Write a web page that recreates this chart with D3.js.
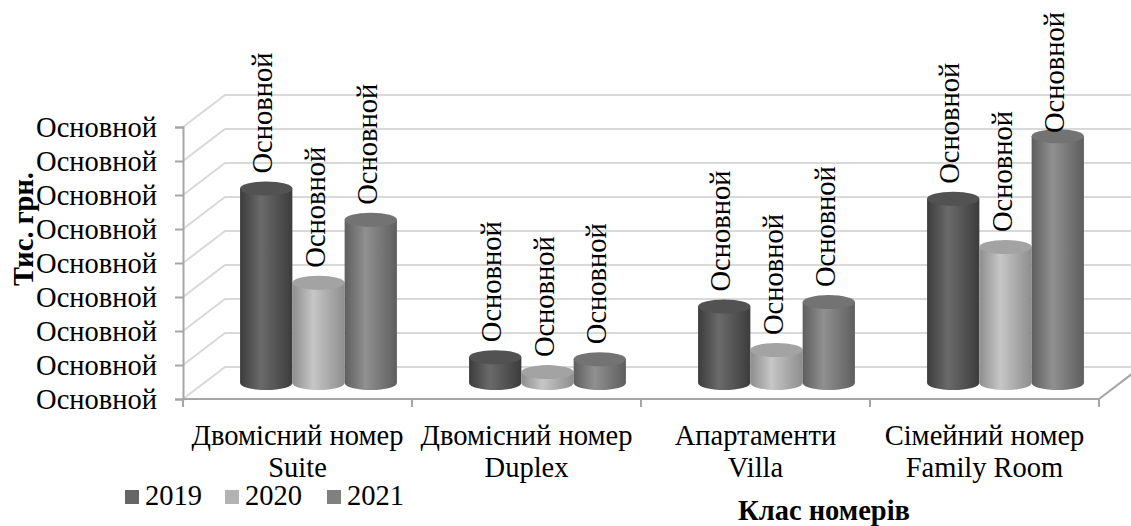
<!DOCTYPE html>
<html>
<head>
<meta charset="utf-8">
<script src="https://cdn.jsdelivr.net/npm/d3@7"></script>
<style>
  body { margin: 0; background: #fff; }
  svg text { font-family: "Liberation Serif", "DejaVu Serif", serif; fill: #000; }
</style>
</head>
<body>
<div id="chart"></div>
<script>
var categories = [
    ["Двомісний номер", "Suite"],
    ["Двомісний номер", "Duplex"],
    ["Апартаменти", "Villa"],
    ["Сімейний номер", "Family Room"]
];
var years = ["2019", "2020", "2021"];
var values2019 = [5.72, 0.76, 2.25, 5.42];
var values2020 = [2.95, 0.32, 0.97, 4.0];
var values2021 = [4.8, 0.7, 2.38, 7.26];
var yTickLabels = ["Основной", "Основной", "Основной", "Основной", "Основной",
                   "Основной", "Основной", "Основной", "Основной"];
var dataLabel = "Основной";
var yTitle = "Тис. грн.";
var xTitle = "Клас номерів";

var W = 1131, H = 526;
var FONT = "'Liberation Serif', 'DejaVu Serif', serif";
var FS = "28.5px";
var margin = { left: 183, right: 32, top: 127, bottom: 127 };
var depthX = 42, depthY = -32;

var series = [
    { year: years[0], values: values2019, edge: "#3c3c3c", mid: "#6a6a6a", top: "#525252", key: "#666666" },
    { year: years[1], values: values2020, edge: "#8e8e8e", mid: "#c6c6c6", top: "#a3a3a3", key: "#b3b3b3" },
    { year: years[2], values: values2021, edge: "#5e5e5e", mid: "#909090", top: "#737373", key: "#808080" }
];

var svg = d3.select("#chart").append("svg")
    .attr("width", W)
    .attr("height", H)
    .style("font-family", FONT);

var x0Front = margin.left, x1Front = W - margin.right;
var y = d3.scaleLinear().domain([0, 8]).range([H - margin.bottom, margin.top]);
var xFront = d3.scaleBand().domain(d3.range(categories.length)).range([x0Front, x1Front]);
// bars sit half way into the depth of the plot
var x = d3.scaleBand().domain(d3.range(categories.length)).range([x0Front + depthX / 2, x1Front + depthX / 2]);
var xs = d3.scaleBand().domain(years).range([0, x.bandwidth()]).paddingOuter(0.69);

var defs = svg.append("defs");
series.forEach(function(s, i) {
    var g = defs.append("linearGradient").attr("id", "cyl" + i)
        .attr("x1", "0%").attr("x2", "100%").attr("y1", "0%").attr("y2", "0%");
    g.append("stop").attr("offset", "0%").attr("stop-color", s.edge);
    g.append("stop").attr("offset", "40%").attr("stop-color", s.mid);
    g.append("stop").attr("offset", "100%").attr("stop-color", s.edge);
});

// back wall + side wall gridlines
var ticks = d3.range(0, 9);
svg.append("g").selectAll("path")
    .data(ticks).enter()
    .append("path")
    .attr("d", function(d) {
        return "M" + x0Front + "," + y(d) + "L" + (x0Front + depthX) + "," + (y(d) + depthY) +
            "L" + (x1Front + depthX) + "," + (y(d) + depthY);
    })
    .style("fill", "none")
    .style("stroke", "#d9d9d9")
    .style("stroke-width", 2);

// floor front edge and right edge
svg.append("path")
    .attr("d", "M" + x0Front + "," + y(0) + "L" + x1Front + "," + y(0) +
        "L" + (x1Front + depthX) + "," + (y(0) + depthY))
    .style("fill", "none")
    .style("stroke", "#a6a6a6")
    .style("stroke-width", 2);

// category ticks
svg.append("g").selectAll("line")
    .data(d3.range(categories.length + 1)).enter()
    .append("line")
    .attr("x1", function(d) { return x0Front + d * xFront.bandwidth(); })
    .attr("x2", function(d) { return x0Front + d * xFront.bandwidth(); })
    .attr("y1", y(0))
    .attr("y2", y(0) + 8)
    .style("stroke", "#a6a6a6")
    .style("stroke-width", 2);

// value axis
var yAxis = d3.axisLeft(y).tickValues(ticks).tickSize(8).tickPadding(18)
    .tickFormat(function(d, i) { return yTickLabels[i]; });
var ya = svg.append("g").attr("transform", "translate(" + x0Front + ",0)").call(yAxis)
    .attr("font-family", FONT);
ya.select(".domain").style("stroke", "#a6a6a6").style("stroke-width", 2);
ya.selectAll(".tick line").style("stroke", "#a6a6a6").style("stroke-width", 2);
ya.selectAll(".tick text")
    .style("font-size", FS)
    .style("font-family", FONT);

// cylinders
var rx, ry = 7;
var baseY = y(0) + depthY / 2;
series.forEach(function(s, si) {
    var g = svg.append("g");
    categories.forEach(function(c, ci) {
        var w = xs.bandwidth();
        rx = w / 2;
        var cx = x(ci) + xs(s.year) + w / 2;
        var top = y(s.values[ci]) + depthY / 2;
        g.append("path")
            .attr("d", "M" + (cx - rx) + "," + top + "L" + (cx - rx) + "," + baseY +
                "A" + rx + "," + ry + " 0 0 0 " + (cx + rx) + "," + baseY +
                "L" + (cx + rx) + "," + top + "Z")
            .style("fill", "url(#cyl" + si + ")");
        g.append("ellipse")
            .attr("cx", cx).attr("cy", top)
            .attr("rx", rx).attr("ry", ry)
            .style("fill", s.top);
    });
});

// data labels, written upwards; kept inside the chart area like Excel does
var labelLen = 121;
series.forEach(function(s) {
    svg.append("g").selectAll("text")
        .data(s.values).enter()
        .append("text")
        .attr("transform", function(d, i) {
            var cx = x(i) + xs(s.year) + xs.bandwidth() / 2 + 6;
            var top = Math.max(y(d) + depthY / 2 - 15, 12 + labelLen);
            return "translate(" + cx + "," + top + ") rotate(-90)";
        })
        .style("font-size", FS)
        .text(dataLabel);
});

// category labels
var cat = svg.append("g").selectAll("text")
    .data(categories).enter()
    .append("text")
    .attr("text-anchor", "middle")
    .attr("x", function(d, i) { return xFront(i) + xFront.bandwidth() / 2; })
    .attr("y", 445)
    .style("font-size", FS);
cat.append("tspan").text(function(d) { return d[0]; });
cat.append("tspan")
    .attr("x", function(d, i) { return xFront(i) + xFront.bandwidth() / 2; })
    .attr("dy", 32)
    .text(function(d) { return d[1]; });

// axis titles
svg.append("text")
    .attr("transform", "translate(33,229) rotate(-90)")
    .attr("text-anchor", "middle")
    .style("font-size", FS)
    .style("font-weight", "bold")
    .text(yTitle);

svg.append("text")
    .attr("x", 824)
    .attr("y", 520)
    .attr("text-anchor", "middle")
    .style("font-size", FS)
    .style("font-weight", "bold")
    .text(xTitle);

// legend
var legendX = [125, 225, 327];
var legend = svg.selectAll(".legend")
    .data(series).enter()
    .append("g")
    .attr("class", "legend")
    .attr("transform", function(d, i) { return "translate(" + legendX[i] + ",490)"; });
legend.append("rect")
    .attr("width", 14)
    .attr("height", 14)
    .style("fill", function(d) { return d.key; });
legend.append("text")
    .attr("x", 20)
    .attr("y", 15)
    .style("font-size", FS)
    .text(function(d) { return d.year; });
</script>
</body>
</html>
